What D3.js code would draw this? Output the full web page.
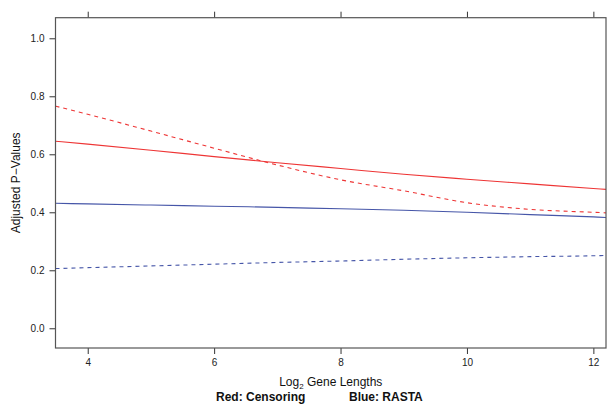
<!DOCTYPE html>
<html>
<head>
<meta charset="utf-8">
<script src="https://cdn.jsdelivr.net/npm/d3@7/dist/d3.min.js"></script>
<style>
  html, body { margin: 0; padding: 0; background: #fff; }
  svg { display: block; font-family: "Liberation Sans", Arial, sans-serif; }
</style>
</head>
<body>
<svg id="chart" width="607" height="406"></svg>
<script>
// ---- data ----
const geneLength = [3.49, 4, 5, 6, 7, 8, 9, 10, 11, 12, 12.2];
const censoringSolid  = [0.645, 0.635, 0.614, 0.592, 0.571, 0.551, 0.531, 0.514, 0.498, 0.482, 0.479];
const censoringDashed = [0.766, 0.738, 0.680, 0.621, 0.563, 0.512, 0.474, 0.433, 0.410, 0.400, 0.398];
const rastaSolid      = [0.431, 0.429, 0.425, 0.421, 0.417, 0.412, 0.407, 0.400, 0.392, 0.384, 0.382];
const rastaDashed     = [0.206, 0.209, 0.215, 0.221, 0.227, 0.232, 0.238, 0.243, 0.247, 0.250, 0.251];
const xTicks = [4, 6, 8, 10, 12];
const yTicks = [0, 0.2, 0.4, 0.6, 0.8, 1.0];
const xDomain = [3.49, 12.2];
const yDomain = [-0.068, 1.071];

const series = [
  { values: censoringSolid,  color: "#ee3535", dash: null },
  { values: censoringDashed, color: "#ee3535", dash: "4,4" },
  { values: rastaSolid,      color: "#4656a8", dash: null },
  { values: rastaDashed,     color: "#4656a8", dash: "4,4" }
];

const svg = d3.select("#chart");
const L = 55.5, R = 606, T = 17.7, B = 348;
const x = d3.scaleLinear().domain(xDomain).range([L, R]);
const y = d3.scaleLinear().domain(yDomain).range([B, T]);

svg.append("defs").append("clipPath").attr("id", "clip")
  .append("rect").attr("x", L).attr("y", T).attr("width", R - L).attr("height", B - T);

const line = d3.line()
  .x((d, i) => x(geneLength[i]))
  .y(d => y(d))
  .curve(d3.curveMonotoneX);

const g = svg.append("g").attr("clip-path", "url(#clip)");
series.forEach(s => {
  g.append("path")
    .attr("d", line(s.values))
    .attr("fill", "none")
    .attr("stroke", s.color)
    .attr("stroke-width", 1.1)
    .attr("stroke-dasharray", s.dash);
});

function styleAxis(sel) {
  sel.select(".domain").remove();
  sel.selectAll(".tick line").attr("stroke", "#333");
  sel.selectAll(".tick text").attr("fill", "#222").style("font-size", "10px")
     .style("font-family", "'Liberation Sans', Arial, sans-serif");
}

svg.append("g").attr("transform", `translate(${L},0)`)
  .call(d3.axisLeft(y).tickValues(yTicks).tickFormat(d3.format(".1f")).tickSize(6).tickPadding(5))
  .call(styleAxis);

svg.append("g").attr("transform", `translate(0,${B})`)
  .call(d3.axisBottom(x).tickValues(xTicks).tickFormat(d3.format("d")).tickSize(6).tickPadding(5))
  .call(styleAxis);

svg.append("g").attr("transform", `translate(0,${T})`)
  .call(d3.axisTop(x).tickValues(xTicks).tickFormat("").tickSize(6))
  .call(styleAxis);

// panel border
svg.append("rect")
  .attr("x", L).attr("y", T).attr("width", R - L).attr("height", B - T)
  .attr("fill", "none").attr("stroke", "#555").attr("stroke-width", 1.2);

// axis titles
const xl = svg.append("text")
  .attr("x", (L + R) / 2).attr("y", 386)
  .attr("text-anchor", "middle").attr("fill", "#111")
  .style("font-size", "12px");
xl.append("tspan").text("Log");
xl.append("tspan").text("2").style("font-size", "8px").attr("dy", 3);
xl.append("tspan").text(" Gene Lengths").attr("dy", -3);

svg.append("text")
  .attr("transform", `translate(20,${(T + B) / 2}) rotate(-90)`)
  .attr("text-anchor", "middle").attr("fill", "#111")
  .style("font-size", "12px")
  .text("Adjusted P\u2212Values");

svg.append("text").attr("x", 216).attr("y", 401)
  .attr("fill", "#111").style("font-size", "12px").style("font-weight", "bold")
  .text("Red: Censoring");
svg.append("text").attr("x", 349).attr("y", 401)
  .attr("fill", "#111").style("font-size", "12px").style("font-weight", "bold")
  .text("Blue: RASTA");
</script>
</body>
</html>
